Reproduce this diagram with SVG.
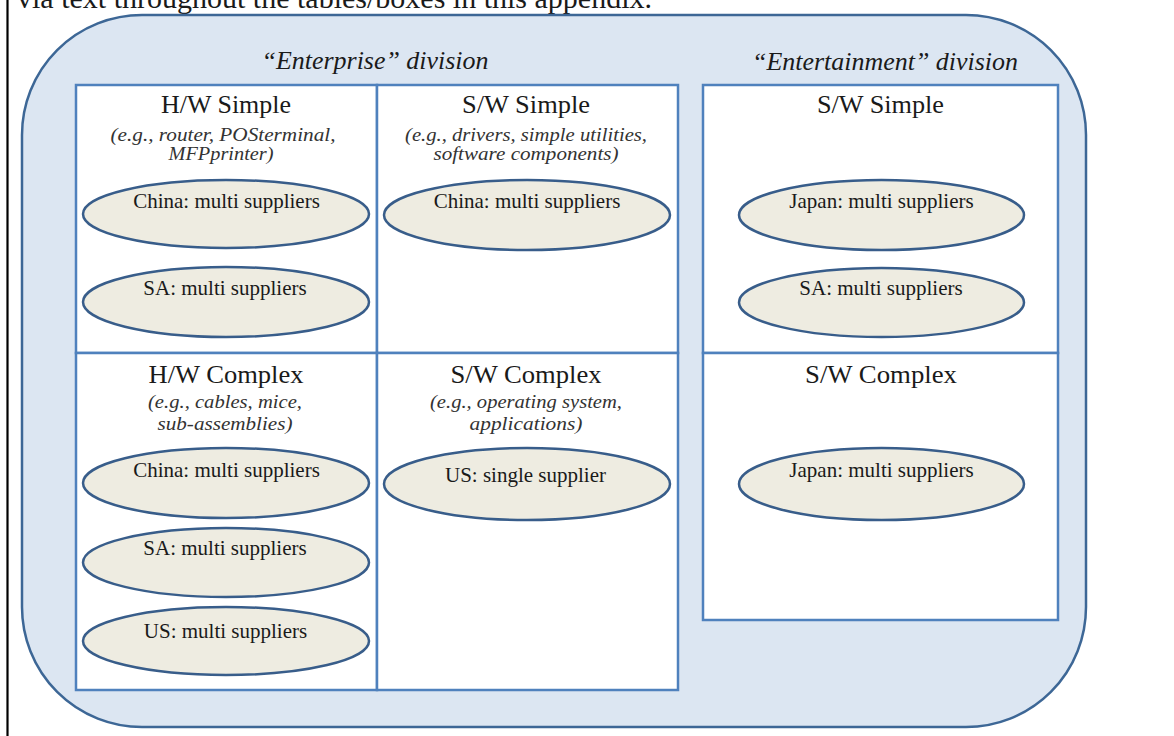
<svg xmlns="http://www.w3.org/2000/svg" width="1174" height="736" viewBox="0 0 1174 736">
<style>
.serif{font-family:"Liberation Serif","Times New Roman",serif;fill:#1a1a1a}
.top{font-size:30px}
.div{font-size:26px;font-style:italic;text-anchor:middle}
.ttl{font-size:26px;text-anchor:middle}
.sub{font-size:19px;font-style:italic;text-anchor:middle;fill:#333}
.lbl{font-size:21px;text-anchor:middle}
.cell{fill:#ffffff;stroke:#4f81bd;stroke-width:2.5}
.ell{fill:#eeece1;stroke:#385d8a;stroke-width:2.5}
</style>
<rect width="1174" height="736" fill="#ffffff"/>
<line x1="7.5" y1="0" x2="7.5" y2="736" stroke="#000" stroke-width="2.2"/>
<text class="serif top" x="17" y="8" textLength="635" lengthAdjust="spacingAndGlyphs">via text throughout the tables/boxes in this appendix.</text>
<rect id="frame" x="22" y="15" width="1064" height="712" rx="120" ry="120" fill="#dce6f2" stroke="#3d6796" stroke-width="2.5"/>
<text class="serif div" x="375" y="69" textLength="227" lengthAdjust="spacingAndGlyphs">“Enterprise” division</text>
<text class="serif div" x="885" y="70" textLength="266" lengthAdjust="spacingAndGlyphs">“Entertainment” division</text>
<g id="connectors"/>
<g id="hw-simple">
<rect class="cell" x="76" y="85" width="301" height="268"/>
<text class="serif ttl" x="226" y="113" textLength="130" lengthAdjust="spacingAndGlyphs">H/W Simple</text>
<text class="serif sub" x="223" y="141" textLength="225" lengthAdjust="spacingAndGlyphs">(e.g., router, POSterminal,</text>
<text class="serif sub" x="221" y="160" textLength="105" lengthAdjust="spacingAndGlyphs">MFPprinter)</text>
</g>
<g id="sw-simple">
<rect class="cell" x="377" y="85" width="301" height="268"/>
<text class="serif ttl" x="526" y="113" textLength="128" lengthAdjust="spacingAndGlyphs">S/W Simple</text>
<text class="serif sub" x="526" y="141" textLength="242" lengthAdjust="spacingAndGlyphs">(e.g., drivers, simple utilities,</text>
<text class="serif sub" x="526" y="160" textLength="185" lengthAdjust="spacingAndGlyphs">software components)</text>
</g>
<g id="hw-complex">
<rect class="cell" x="76" y="353" width="301" height="337"/>
<text class="serif ttl" x="226" y="383" textLength="155" lengthAdjust="spacingAndGlyphs">H/W Complex</text>
<text class="serif sub" x="225" y="408" textLength="154" lengthAdjust="spacingAndGlyphs">(e.g., cables, mice,</text>
<text class="serif sub" x="225" y="430" textLength="135" lengthAdjust="spacingAndGlyphs">sub-assemblies)</text>
</g>
<g id="sw-complex">
<rect class="cell" x="377" y="353" width="301" height="337"/>
<text class="serif ttl" x="526" y="383" textLength="151" lengthAdjust="spacingAndGlyphs">S/W Complex</text>
<text class="serif sub" x="526" y="408" textLength="192" lengthAdjust="spacingAndGlyphs">(e.g., operating system,</text>
<text class="serif sub" x="526" y="430" textLength="113" lengthAdjust="spacingAndGlyphs">applications)</text>
</g>
<g id="ent-sw-simple">
<rect class="cell" x="703" y="85" width="355" height="268"/>
<text class="serif ttl" x="880.5" y="113" textLength="127" lengthAdjust="spacingAndGlyphs">S/W Simple</text>
</g>
<g id="ent-sw-complex">
<rect class="cell" x="703" y="353" width="355" height="267"/>
<text class="serif ttl" x="881" y="383" textLength="152" lengthAdjust="spacingAndGlyphs">S/W Complex</text>
</g>
<g id="hws-china">
<ellipse class="ell" cx="226" cy="214" rx="143" ry="34"/>
<text class="serif lbl" x="226.5" y="208">China: multi suppliers</text>
</g>
<g id="hws-sa">
<ellipse class="ell" cx="226" cy="302" rx="143" ry="35"/>
<text class="serif lbl" x="225" y="295">SA: multi suppliers</text>
</g>
<g id="sws-china">
<ellipse class="ell" cx="527" cy="215" rx="143" ry="35"/>
<text class="serif lbl" x="527" y="208">China: multi suppliers</text>
</g>
<g id="hwc-china">
<ellipse class="ell" cx="226" cy="483" rx="143" ry="35"/>
<text class="serif lbl" x="226.5" y="477">China: multi suppliers</text>
</g>
<g id="hwc-sa">
<ellipse class="ell" cx="226" cy="562.5" rx="143" ry="34.5"/>
<text class="serif lbl" x="225" y="555">SA: multi suppliers</text>
</g>
<g id="hwc-us">
<ellipse class="ell" cx="226" cy="641" rx="143" ry="34"/>
<text class="serif lbl" x="225.5" y="638">US: multi suppliers</text>
</g>
<g id="swc-us">
<ellipse class="ell" cx="527" cy="484" rx="143" ry="36"/>
<text class="serif lbl" x="525.5" y="482">US: single supplier</text>
</g>
<g id="ent-sws-japan">
<ellipse class="ell" cx="881.5" cy="215" rx="142.5" ry="35"/>
<text class="serif lbl" x="881.5" y="208">Japan: multi suppliers</text>
</g>
<g id="ent-sws-sa">
<ellipse class="ell" cx="881.5" cy="302.5" rx="142.5" ry="34.5"/>
<text class="serif lbl" x="881" y="295">SA: multi suppliers</text>
</g>
<g id="ent-swc-japan">
<ellipse class="ell" cx="881.5" cy="484" rx="142.5" ry="36"/>
<text class="serif lbl" x="881.5" y="477">Japan: multi suppliers</text>
</g>
</svg>
